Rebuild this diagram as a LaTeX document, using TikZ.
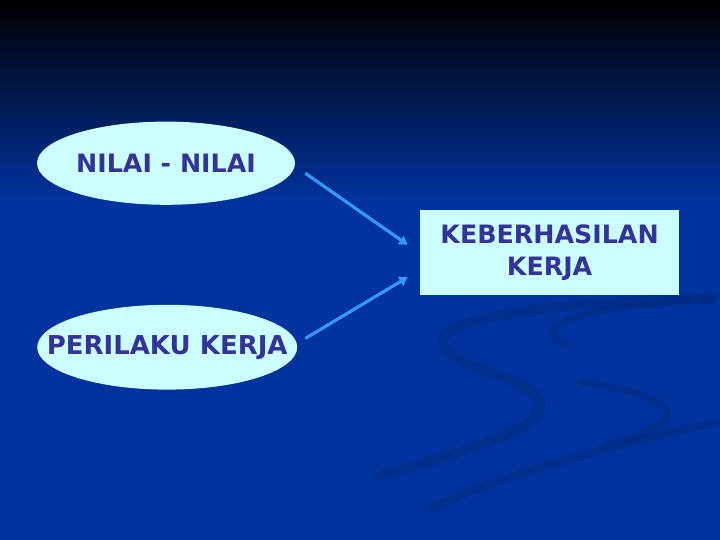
\documentclass[tikz,border=0pt]{standalone}
\usepackage{fontspec}
\setmainfont{DejaVu Sans}
\usepackage{tikz}
\usetikzlibrary{positioning,calc,shapes.geometric,arrows.meta}
\definecolor{SlideBlue}{RGB}{0,51,158}
\definecolor{SwirlBlue}{RGB}{0,42,128}
\definecolor{BoxFill}{RGB}{204,255,255}
\definecolor{TextBlue}{RGB}{51,51,153}
\definecolor{ArrowBlue}{RGB}{51,153,255}
\tikzset{
    ovalnode/.style={ellipse, fill=BoxFill, text=TextBlue, inner xsep=-2cm, inner ysep=0pt,
        minimum width=6.45cm, minimum height=2.08cm, font=\bfseries\fontsize{18}{20}\selectfont},
    boxnode/.style={rectangle, fill=BoxFill, text=TextBlue, inner sep=0pt, align=center,
        minimum width=6.48cm, minimum height=2.12cm, font=\bfseries\fontsize{18}{22.7}\selectfont},
    linkarrow/.style={draw=ArrowBlue, line width=2.2pt, -{Triangle[length=6pt, width=7pt]}},
    swirl/.style={draw=SwirlBlue, line width=5pt, line cap=round, opacity=0.55}
}

\begin{document}
\begin{tikzpicture}
    % latar belakang
    \fill[SlideBlue] (0,0) rectangle (18,13.5);
    \shade[top color=black, bottom color=SlideBlue] (0,8.5) rectangle (18,13.5);
    \useasboundingbox (0,0) rectangle (18,13.5);
    % hiasan
    \draw[swirl, line width=7pt] (17.8,6.05) .. controls (12,5.9) and (9.4,5.2) .. (12.2,4.2)
        .. controls (15,3.3) and (13,2.6) .. (9.5,1.6);
    \draw[swirl] (17.8,6.0) .. controls (14.5,5.9) and (13.2,5.3) .. (14.1,4.9);
    \draw[swirl] (14.5,3.95) .. controls (17,3.6) and (17.5,3.0) .. (15.2,2.4);
    \draw[swirl, line width=6pt] (17.9,2.95) .. controls (15,2.3) and (12.5,1.6) .. (10.8,0.8);
    % simpul
    \node[ovalnode] (nilai) at (4.15,9.42) {NILAI - NILAI};
    \node[ovalnode, minimum width=6.5cm, minimum height=2.12cm,
          font=\bfseries\fontsize{18.5}{20}\selectfont] (perilaku) at (4.18,4.82) {PERILAKU KERJA};
    \node[boxnode] (hasil) at (13.74,7.19) {KEBERHASILAN\\KERJA};
    % panah
    \coordinate (n1) at ($(nilai.east)+(0.25,-0.25)$);
    \coordinate (p1) at ($(perilaku.east)+(0.2,0.22)$);
    \coordinate (h1) at ($(hasil.west)+(-0.3,0.19)$);
    \coordinate (h2) at ($(hasil.west)+(-0.3,-0.62)$);
    \draw[linkarrow] (n1) -- (h1);
    \draw[linkarrow] (p1) -- (h2);
\end{tikzpicture}
\end{document}
